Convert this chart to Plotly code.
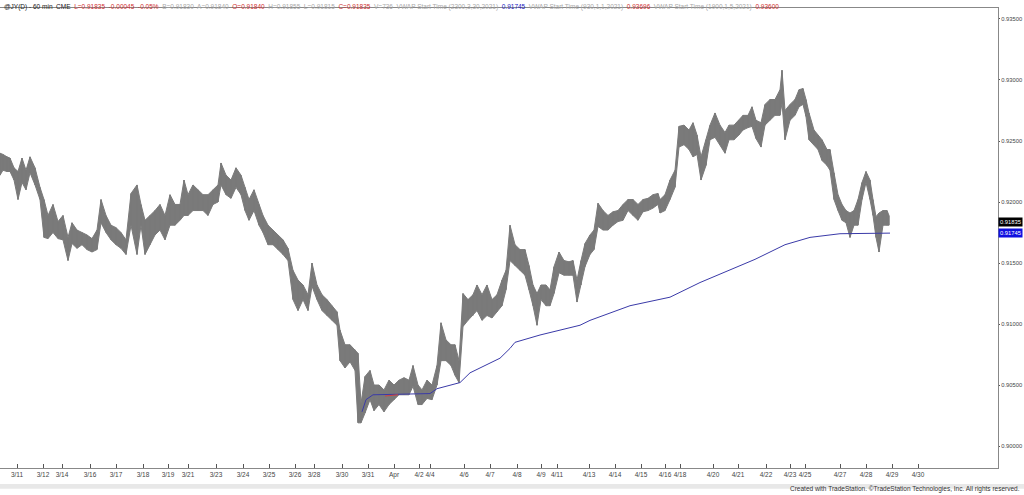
import plotly.graph_objects as go

bar_x = [0,3,7,10,14,18,22,26,30,35,40,44,48,53,58,63,68,72,77,82,87,92,97,101,106,111,116,121,126,131,137,141,145,150,155,160,165,170,175,180,184,188,193,198,203,208,213,218,221,226,231,236,241,245,249,254,259,263,268,273,278,283,288,293,298,303,308,312,317,322,327,332,337,340,345,350,355,358,361,365,370,374,379,384,389,394,399,404,409,413,418,422,427,432,437,441,446,451,455,459,463,468,473,477,482,487,492,497,502,506,510,515,520,525,529,533,537,541,546,550,554,559,564,569,573,577,581,585,590,594,598,603,608,613,618,623,628,633,638,643,648,653,658,660,665,670,675,679,684,689,693,697,701,706,710,715,720,725,729,734,739,743,748,752,756,761,765,770,775,780,782,785,790,795,799,803,806,809,814,818,822,827,830,834,838,842,846,850,854,858,862,866,870,873,876,879,883,887,889]
bar_high = [0.9240,0.9239,0.9237,0.9236,0.9228,0.9225,0.9236,0.9226,0.9237,0.9228,0.9212,0.9202,0.9189,0.9198,0.9184,0.9189,0.9171,0.9183,0.9177,0.9175,0.9173,0.9170,0.9177,0.9202,0.9189,0.9181,0.9179,0.9175,0.9169,0.9207,0.9214,0.9198,0.9185,0.9189,0.9193,0.9198,0.9189,0.9206,0.9198,0.9198,0.9218,0.9206,0.9214,0.9210,0.9206,0.9206,0.9210,0.9214,0.9232,0.9222,0.9218,0.9228,0.9222,0.9212,0.9202,0.9210,0.9198,0.9189,0.9181,0.9177,0.9173,0.9169,0.9162,0.9144,0.9136,0.9132,0.9124,0.9150,0.9132,0.9124,0.9120,0.9115,0.9110,0.9095,0.9083,0.9083,0.9079,0.9076,0.9035,0.9057,0.9062,0.9050,0.9050,0.9046,0.9054,0.9050,0.9054,0.9056,0.9054,0.9066,0.9050,0.9046,0.9054,0.9050,0.9066,0.9101,0.9087,0.9083,0.9083,0.9070,0.9125,0.9120,0.9124,0.9132,0.9124,0.9132,0.9120,0.9124,0.9136,0.9144,0.9181,0.9165,0.9161,0.9161,0.9148,0.9132,0.9125,0.9132,0.9132,0.9128,0.9147,0.9159,0.9152,0.9151,0.9152,0.9136,0.9152,0.9166,0.9173,0.9177,0.9199,0.9193,0.9189,0.9192,0.9193,0.9198,0.9202,0.9202,0.9198,0.9202,0.9203,0.9206,0.9207,0.9202,0.9206,0.9218,0.9226,0.9262,0.9263,0.9259,0.9265,0.9255,0.9237,0.9251,0.9263,0.9273,0.9263,0.9257,0.9263,0.9263,0.9267,0.9271,0.9271,0.9278,0.9267,0.9265,0.9280,0.9284,0.9284,0.9292,0.9308,0.9275,0.9280,0.9284,0.9292,0.9293,0.9284,0.9273,0.9259,0.9255,0.9251,0.9243,0.9243,0.9224,0.9206,0.9198,0.9193,0.9191,0.9193,0.9202,0.9216,0.9225,0.9218,0.9202,0.9188,0.9191,0.9193,0.9193,0.9189]
bar_low = [0.9222,0.9226,0.9225,0.9225,0.9218,0.9202,0.9216,0.9210,0.9224,0.9214,0.9202,0.9171,0.9170,0.9175,0.9170,0.9169,0.9152,0.9166,0.9162,0.9165,0.9161,0.9159,0.9161,0.9183,0.9175,0.9169,0.9165,0.9162,0.9157,0.9181,0.9157,0.9181,0.9157,0.9165,0.9173,0.9177,0.9169,0.9181,0.9181,0.9185,0.9189,0.9189,0.9193,0.9193,0.9193,0.9189,0.9198,0.9200,0.9214,0.9206,0.9203,0.9212,0.9206,0.9193,0.9185,0.9193,0.9181,0.9175,0.9165,0.9165,0.9161,0.9157,0.9152,0.9120,0.9111,0.9120,0.9111,0.9131,0.9120,0.9111,0.9107,0.9103,0.9099,0.9070,0.9064,0.9069,0.9062,0.9019,0.9019,0.9027,0.9038,0.9029,0.9034,0.9028,0.9034,0.9038,0.9042,0.9042,0.9042,0.9049,0.9034,0.9034,0.9039,0.9038,0.9050,0.9070,0.9070,0.9066,0.9058,0.9052,0.9098,0.9103,0.9107,0.9111,0.9103,0.9107,0.9105,0.9110,0.9115,0.9128,0.9152,0.9148,0.9144,0.9140,0.9128,0.9115,0.9099,0.9120,0.9115,0.9115,0.9125,0.9142,0.9140,0.9140,0.9140,0.9118,0.9132,0.9147,0.9157,0.9161,0.9180,0.9177,0.9177,0.9181,0.9184,0.9185,0.9193,0.9189,0.9185,0.9192,0.9193,0.9195,0.9198,0.9191,0.9193,0.9202,0.9212,0.9245,0.9247,0.9243,0.9237,0.9239,0.9218,0.9230,0.9251,0.9253,0.9247,0.9240,0.9251,0.9251,0.9255,0.9259,0.9261,0.9262,0.9252,0.9245,0.9263,0.9267,0.9271,0.9271,0.9281,0.9251,0.9267,0.9271,0.9278,0.9280,0.9270,0.9251,0.9247,0.9243,0.9234,0.9230,0.9226,0.9202,0.9193,0.9185,0.9183,0.9171,0.9181,0.9181,0.9202,0.9216,0.9202,0.9189,0.9171,0.9159,0.9181,0.9181,0.9181]

vwap_x = [362,366,373,430,437,460,470,500,510,515,540,570,580,590,630,670,700,755,775,785,810,840,890]
vwap_y = [0.9028,0.9038,0.9042,0.9043,0.9047,0.9052,0.9060,0.9072,0.9080,0.9085,0.9091,0.9097,0.9099,0.9103,0.9115,0.9122,0.9134,0.9153,0.9161,0.9165,0.9171,0.9174,0.91745]
vwap_red_x = [385, 398]
vwap_red_y = [0.9041, 0.9042]

tick_pos = [17,43,62,90,116,143,168,188,216,243,269,295,314,342,368,394,419,430,464,490,517,541,557,589,615,641,665,680,713,738,766,790,805,840,866,892,918]
tick_text = ["3/11","3/12","3/14","3/16","3/17","3/18","3/19","3/21","3/23","3/24","3/25","3/26","3/28","3/30","3/31","Apr","4/2","4/4","4/6","4/7","4/8","4/9","4/11","4/13","4/14","4/15","4/16","4/18","4/20","4/21","4/22","4/23","4/25","4/27","4/28","4/29","4/30"]
y_ticks = [0.900,0.905,0.910,0.915,0.920,0.925,0.930,0.935]
last_close = 0.91835
last_vwap = 0.91745

grey = "#7a7a7a"
fig = go.Figure()
fig.add_trace(go.Scatter(x=bar_x, y=bar_low, mode="lines", line=dict(color=grey, width=1), hoverinfo="skip"))
fig.add_trace(go.Scatter(x=bar_x, y=bar_high, mode="lines", line=dict(color=grey, width=1), fill="tonexty", fillcolor=grey, hoverinfo="skip"))
sx, sy = [], []
for x, h, l in zip(bar_x, bar_high, bar_low):
    sx += [x, x, None]; sy += [l, h, None]
fig.add_trace(go.Scatter(x=sx, y=sy, mode="lines", line=dict(color=grey, width=1.5), hoverinfo="skip"))
fig.add_trace(go.Scatter(x=vwap_x, y=vwap_y, mode="lines", line=dict(color="#3a3aa8", width=1)))
fig.add_trace(go.Scatter(x=vwap_red_x, y=vwap_red_y, mode="lines", line=dict(color="#d04040", width=1)))

fig.update_layout(
    width=1024, height=495, showlegend=False,
    margin=dict(l=0, r=26, t=8, b=27, autoexpand=False),
    paper_bgcolor="white", plot_bgcolor="white",
    font=dict(family="Arial, Liberation Sans", size=7, color="#444"),
    xaxis=dict(range=[0, 998], tickvals=tick_pos, ticktext=tick_text, showgrid=False, zeroline=False,
               automargin=False, tickangle=0,
               ticks="inside", ticklen=4, tickcolor="#555", showline=True, linecolor="#888", mirror=True,
               tickfont=dict(size=6.5, color="#444")),
    yaxis=dict(range=[0.8982, 0.9359], side="right", tickvals=y_ticks, tickformat=".5f", showgrid=False,
               automargin=False,
               zeroline=False, ticks="outside", ticklen=1, tickcolor="#555", showline=True, linecolor="#888",
               mirror=True, tickfont=dict(size=5.8, color="#444")),
)

hdr = ("<span style='color:#222'>@JY(D) - 60 min  CME  </span>"
       "<span style='color:#d03030'>L=0.91835  -0.00045  -0.05%  </span>"
       "<span style='color:#aaa'>B=0.91830  A=0.91840  </span>"
       "<span style='color:#d03030'>O=0.91840  </span>"
       "<span style='color:#aaa'>H=0.91855  L=0.91815  </span>"
       "<span style='color:#d03030'>C=0.91835  </span>"
       "<span style='color:#aaa'>V=736  VWAP Start Time (2300,3,30,2021)  </span>"
       "<span style='color:#2020c0'>0.91745  </span>"
       "<span style='color:#aaa'>VWAP Start Time (930,1,1,2021)  </span>"
       "<span style='color:#d03030'>0.93696  </span>"
       "<span style='color:#aaa'>VWAP Start Time (1900,1,5,2021)  </span>"
       "<span style='color:#d03030'>0.93600</span>")
fig.add_annotation(x=0, y=1, xref="paper", yref="paper", xanchor="left", yanchor="top", text=hdr,
                   showarrow=False, font=dict(size=6.5), xshift=2, yshift=7)
fig.add_annotation(x=1, y=last_close, xref="paper", yref="y", xanchor="left", text=f"{last_close:.5f}",
                   showarrow=False, bgcolor="black", font=dict(color="white", size=5.8), borderpad=1, xshift=0)
fig.add_annotation(x=1, y=last_vwap, xref="paper", yref="y", xanchor="left", text=f"{last_vwap:.5f}",
                   showarrow=False, bgcolor="#1010e0", font=dict(color="white", size=5.8), borderpad=1, xshift=0)
fig.add_shape(type="rect", xref="paper", yref="paper", x0=0, x1=1.026, y0=-0.035, y1=-0.045,
              fillcolor="#e8e8e8", line=dict(width=0))
fig.add_annotation(x=1, y=0, xref="paper", yref="paper", xanchor="right", yanchor="bottom",
                   text="Created with TradeStation. ©TradeStation Technologies, Inc. All rights reserved.",
                   showarrow=False, font=dict(size=6.5, color="#333"), yshift=-27, xshift=24)
fig.write_html("out.html", config={"displayModeBar": False}, post_script="document.body.style.margin='0';")
